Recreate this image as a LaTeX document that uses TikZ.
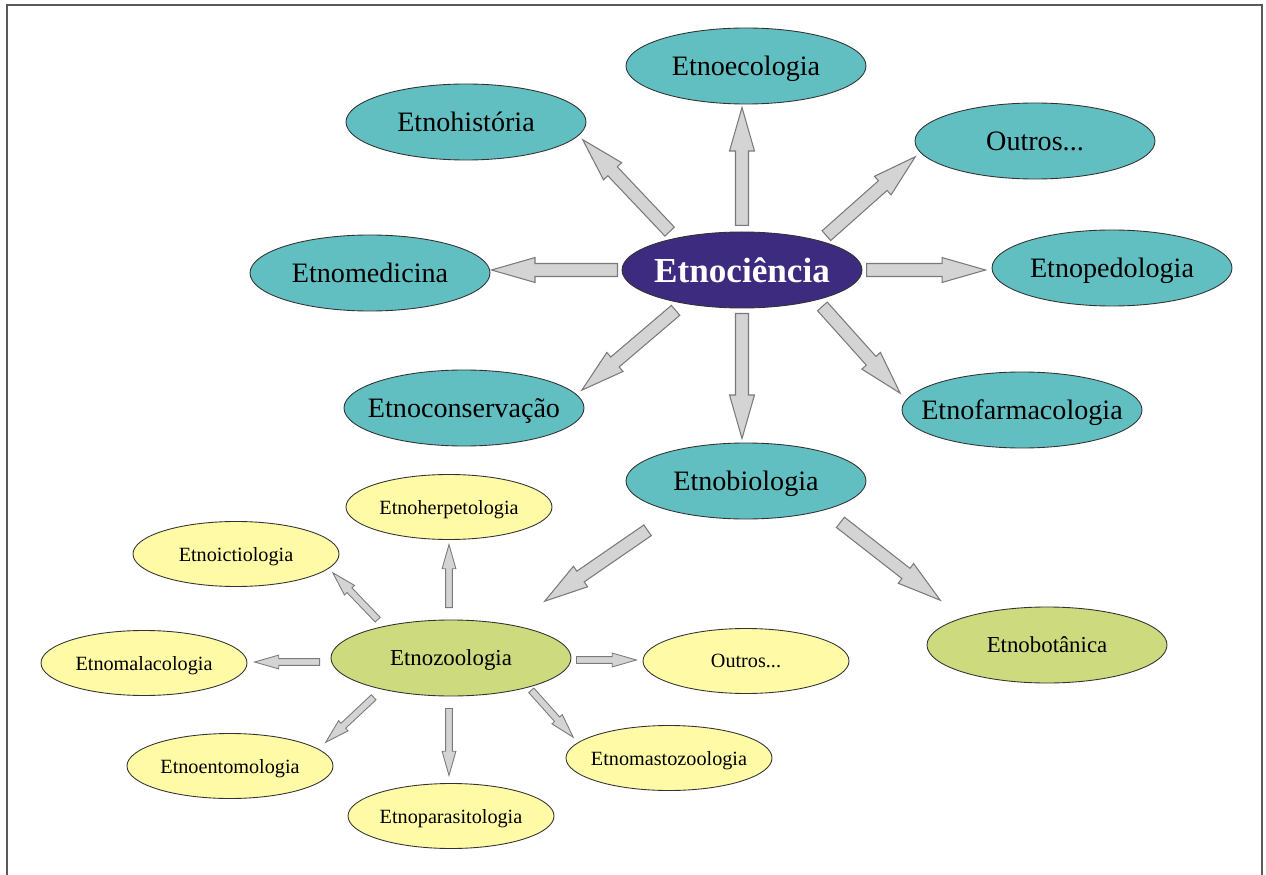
\documentclass[tikz,border=0pt]{standalone}
\usepackage{fontspec}
\setmainfont{Liberation Serif}
\usetikzlibrary{shapes.geometric,shapes.arrows,calc}
\definecolor{roxo}{HTML}{3D2B80}
\definecolor{turquesa}{HTML}{62BFC1}
\definecolor{verde}{HTML}{CDDB7E}
\definecolor{amarelo}{HTML}{FFFAA6}
\definecolor{cinzaseta}{HTML}{D4D4D4}
\definecolor{bordaseta}{HTML}{7A7A7A}
\newcommand{\blockarr}[5][bigarrow]{%
	\path let \p1=($(#2)+(#3)$), \p2=($(#4)+(#5)$),
		\n1={atan2(\y2-\y1,\x2-\x1)}, \n2={veclen(\x2-\x1,\y2-\y1)} in
		node[#1, anchor=tail, rotate=\n1, minimum height=\n2] at (\p1) {};}
\begin{document}
\begin{tikzpicture}
	[every node/.style={draw=black!80,ellipse,line width=0.5pt,inner ysep=0pt,inner xsep=-0.6cm,text depth=0pt},
	central/.style={fill=roxo,minimum width=4.8cm,minimum height=1.52cm,text=white,font=\fontsize{20}{24}\selectfont\bfseries},
	ramo/.style={fill=turquesa,minimum width=4.8cm,minimum height=1.52cm,font=\fontsize{16}{19}\selectfont},
	sub/.style={fill=verde,minimum width=4.8cm,minimum height=1.52cm,font=\fontsize{13}{16}\selectfont},
	folha/.style={fill=amarelo,minimum width=4.12cm,minimum height=1.3cm,font=\fontsize{11.5}{14}\selectfont},
	bigarrow/.style={single arrow,draw=bordaseta,fill=cinzaseta,line width=0.6pt,inner xsep=0pt,inner ysep=3.4pt,
		single arrow head extend=3.4pt,single arrow tip angle=32},
	smallarrow/.style={single arrow,draw=bordaseta,fill=cinzaseta,line width=0.5pt,inner xsep=0pt,inner ysep=1.7pt,
		single arrow head extend=2pt,single arrow tip angle=32}]
	\useasboundingbox (0,0) rectangle (25.32,-17.5);
	\draw[line width=1.1pt,black!65] (0.14,-17.5) -- (0.14,-0.1) -- (25.24,-0.1) -- (25.24,-17.5);

	\node[central] (ciencia) at (14.84,-5.40) {Etnociência};
	\node[ramo] (ecologia) at (14.92,-1.32) {Etnoecologia};
	\node[ramo] (historia) at (9.32,-2.44) {Etnohistória};
	\node[ramo] (outrosA) at (20.70,-2.82) {Outros...};
	\node[ramo] (medicina) at (7.40,-5.46) {Etnomedicina};
	\node[ramo] (pedologia) at (22.24,-5.36) {Etnopedologia};
	\node[ramo] (conservacao) at (9.28,-8.16) {Etnoconservação};
	\node[ramo] (farmacologia) at (20.44,-8.20) {Etnofarmacologia};
	\node[ramo] (biologia) at (14.92,-9.62) {Etnobiologia};

	\node[sub] (zoologia) at (9.02,-13.16) {Etnozoologia};
	\node[sub] (botanica) at (20.94,-12.90) {Etnobotânica};

	\node[folha] (herpetologia) at (8.98,-10.14) {Etnoherpetologia};
	\node[folha] (ictiologia) at (4.72,-11.08) {Etnoictiologia};
	\node[folha] (malacologia) at (2.88,-13.26) {Etnomalacologia};
	\node[folha] (outrosB) at (14.92,-13.22) {Outros...};
	\node[folha] (entomologia) at (4.60,-15.32) {Etnoentomologia};
	\node[folha] (mastozoologia) at (13.38,-15.16) {Etnomastozoologia};
	\node[folha] (parasitologia) at (9.02,-16.32) {Etnoparasitologia};

	\blockarr{ciencia}{0,0.88}{ecologia}{-0.08,-0.84}
	\blockarr{ciencia}{-1.44,0.76}{historia}{2.34,-0.36}
	\blockarr{ciencia}{1.68,0.68}{outrosA}{-2.40,-0.32}
	\blockarr{ciencia}{-2.48,0}{medicina}{2.44,0.06}
	\blockarr{ciencia}{2.48,0}{pedologia}{-2.54,-0.04}
	\blockarr{ciencia}{-1.32,-0.80}{conservacao}{2.36,0.36}
	\blockarr{ciencia}{0,-0.86}{biologia}{-0.08,0.86}
	\blockarr{ciencia}{1.60,-0.72}{farmacologia}{-2.44,0.34}
	\blockarr{biologia}{-1.96,-0.98}{zoologia}{1.88,1.14}
	\blockarr{biologia}{1.88,-0.82}{botanica}{-2.14,0.90}

	\blockarr[smallarrow]{zoologia}{-0.04,1.0}{herpetologia}{0,-0.76}
	\blockarr[smallarrow]{zoologia}{-1.46,0.76}{ictiologia}{1.94,-0.38}
	\blockarr[smallarrow]{zoologia}{-2.62,-0.08}{malacologia}{2.22,0.02}
	\blockarr[smallarrow]{zoologia}{2.50,-0.04}{outrosB}{-2.20,0.02}
	\blockarr[smallarrow]{zoologia}{-1.54,-0.78}{entomologia}{1.92,0.48}
	\blockarr[smallarrow]{zoologia}{-0.04,-1.0}{parasitologia}{-0.04,0.82}
	\blockarr[smallarrow]{zoologia}{1.60,-0.64}{mastozoologia}{-1.92,0.42}
\end{tikzpicture}
\end{document}
